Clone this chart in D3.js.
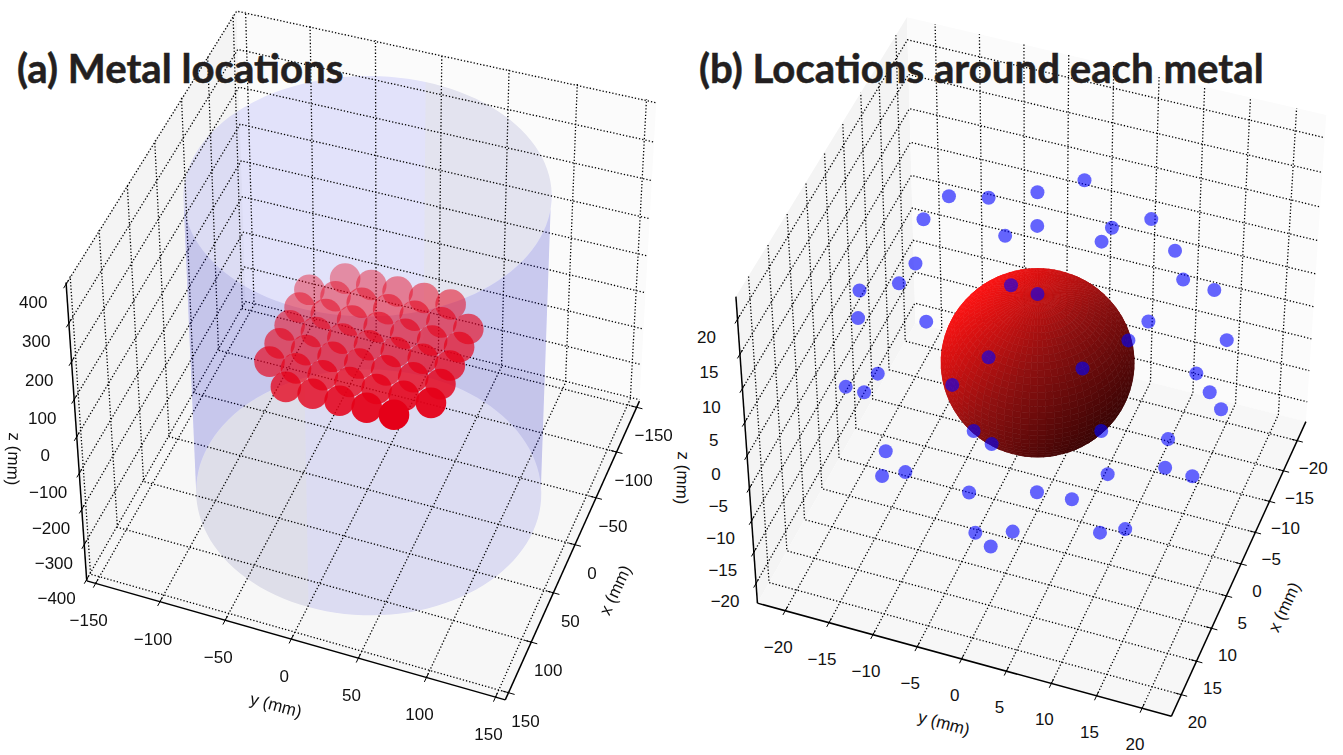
<!DOCTYPE html>
<html>
<head>
<meta charset="utf-8">
<style>
  body { margin: 0; background: #fff; }
  text { font-family: "Liberation Sans", Arial, sans-serif; fill: #111; }
  text.title { font-family: Lato, "Open Sans", sans-serif; font-weight: 700; font-size: 40.2px; fill: #231f20; stroke: #231f20; stroke-width: 0.5px; }
</style>
</head>
<body>
<svg id="chart" width="1343" height="755"></svg>
<script src="https://cdn.jsdelivr.net/npm/d3@7"></script>
<script>
// Panel (a) ticks
const ticksA = [-150, -100, -50, 0, 50, 100, 150];
const zTicksA = [-400, -300, -200, -100, 0, 100, 200, 300, 400];

// Panel (b) ticks
const ticksB = [-20, -15, -10, -5, 0, 5, 10, 15, 20];

// Metal centres, mm
const metalX = [-60, -60, -60, -60, -60,
  -40, -40, -40, -40, -40, -40, -40,
  -20, -20, -20, -20, -20, -20, -20,
  0, 0, 0, 0, 0, 0, 0,
  20, 20, 20, 20, 20, 20, 20,
  40, 40, 40, 40, 40, 40, 40,
  60, 60, 60, 60, 60];
const metalY = [-38.5, -18.5, 1.5, 21.5, 41.5,
  -58.5, -38.5, -18.5, 1.5, 21.5, 41.5, 61.5,
  -58.5, -38.5, -18.5, 1.5, 21.5, 41.5, 61.5,
  -58.5, -38.5, -18.5, 1.5, 21.5, 41.5, 61.5,
  -58.5, -38.5, -18.5, 1.5, 21.5, 41.5, 61.5,
  -58.5, -38.5, -18.5, 1.5, 21.5, 41.5, 61.5,
  -38.5, -18.5, 1.5, 21.5, 41.5];

// Locations around one metal, mm (depth is an estimate)
const siteX = [-16.6, -13.1, -9.3, -10.5, -5.0, -13.2, -8.1, -10.5, -5.5, -8.1,
  -9.4, 1.7, 5.1, -5.5, 7.5, -5.1, 1.4, 1.7, 11.4, 9.5,
  1.7, -6.5, -10.1, 1.0, -0.8, 7.3, -4.2, 10.3, 10.4, 6.2,
  -2.0, 0.0, 1.0, -3.7, 2.2, -5.0, 7.1, 9.3, 10.7, -0.8,
  -0.6, 2.2, 9.8, 7.3, 7.0, 15.1, 13.6, 16.4, 10.6, 9.2];
const siteY = [-0.8, -4.8, -13.3, -9.3, -14.5, 7.8, -3.0, 4.4, -5.6, 4.1,
  11.7, -12.8, -13.3, 13.9, -16.7, 17.4, -2.4, 0.6, -15.3, -8.6,
  12.6, 7.8, 17.5, -5.1, 4.7, -15.1, 16.1, -17.5, -15.4, -7.2,
  18.3, 20.2, -6.9, 5.9, -4.4, 13.0, -14.6, -11.5, -13.6, 14.1,
  17.2, 8.7, -4.1, 2.6, 6.4, -1.4, 2.2, 0.8, 10.8, 13.1];
const siteZ = [12, 12, 12, 12, 12, 12, 12, 12, 12, 12,
  12, 12, 12, 12, 12, 12, 12, 12, 12, 12,
  12, 0, 0, 0, 0, 0, 0, 0, 0, 0,
  0, 0, -12, -12, -12, -12, -12, -12, -12, -12,
  -12, -12, -12, -12, -12, -12, -12, -12, -12, -12];

// Cylinder and sphere sizes, mm
const cylinderRadius = 125.5;
const cylinderEnds = [-400, 400];
const sphereRadius = 10.1;

const svg = d3.select("#chart");
const line = d3.line();

// Least squares camera from the box corners seen on screen
function solveCamera(corners) {
  const A = [];
  const b = [];
  corners.forEach(([u, v, w, X, Y]) => {
    A.push([u, v, w, 1, 0, 0, 0, 0, -X * u, -X * v, -X * w]);
    b.push(X);
    A.push([0, 0, 0, 0, u, v, w, 1, -Y * u, -Y * v, -Y * w]);
    b.push(Y);
  });
  const n = 11;
  const M = d3.range(n).map((i) =>
    d3.range(n + 1).map((j) => d3.sum(A, (r, k) => r[i] * (j < n ? r[j] : b[k])))
  );
  for (let i = 0; i < n; i++) {
    let p = i;
    for (let r = i; r < n; r++) if (Math.abs(M[r][i]) > Math.abs(M[p][i])) p = r;
    [M[i], M[p]] = [M[p], M[i]];
    for (let r = 0; r < n; r++) {
      if (r === i) continue;
      const f = M[r][i] / M[i][i];
      for (let j = i; j <= n; j++) M[r][j] -= f * M[i][j];
    }
  }
  return M.map((r, i) => r[n] / r[i]);
}

function makePanel(cfg) {
  const g = svg.append("g").style("isolation", "isolate");
  const cam = solveCamera(cfg.corners);
  const xScale = d3.scaleLinear([-cfg.lim, cfg.lim], [0, 1]);
  const yScale = d3.scaleLinear([-cfg.lim, cfg.lim], [0, 1]);
  const zScale = d3.scaleLinear([-cfg.zLim, cfg.zLim], [0, 1]);

  const depthOf = (x, y, z) =>
    cam[8] * xScale(x) + cam[9] * yScale(y) + cam[10] * zScale(z) + 1;
  const project = (x, y, z) => {
    const u = xScale(x), v = yScale(y), w = zScale(z);
    const d = depthOf(x, y, z);
    return [
      (cam[0] * u + cam[1] * v + cam[2] * w + cam[3]) / d,
      (cam[4] * u + cam[5] * v + cam[6] * w + cam[7]) / d,
    ];
  };

  const L = cfg.lim, Z = cfg.zLim;

  // Panes
  const pane = (pts, fill) =>
    g.append("path")
      .attr("d", line(pts.map((p) => project(...p))) + "Z")
      .attr("fill", fill);
  pane([[L, -L, -Z], [-L, -L, -Z], [-L, -L, Z], [L, -L, Z]], "#f4f4f4");
  pane([[-L, -L, -Z], [-L, L, -Z], [-L, L, Z], [-L, -L, Z]], "#fbfbfb");
  pane([[L, -L, -Z], [L, L, -Z], [-L, L, -Z], [-L, -L, -Z]], "#f7f7f7");

  // Grid
  const gridLine = (pts) =>
    g.append("path")
      .attr("d", line(pts.map((p) => project(...p))))
      .attr("fill", "none")
      .attr("stroke", "#000")
      .attr("stroke-width", 1.3)
      .attr("stroke-dasharray", "1.3,2");
  cfg.xTicks.forEach((t) => gridLine([[t, L, -Z], [t, -L, -Z], [t, -L, Z]]));
  cfg.yTicks.forEach((t) => gridLine([[L, t, -Z], [-L, t, -Z], [-L, t, Z]]));
  cfg.zTicks.forEach((t) => gridLine([[L, -L, t], [-L, -L, t], [-L, L, t]]));

  // Axes
  const axisLine = (a, b) =>
    g.append("path")
      .attr("d", line([project(...a), project(...b)]))
      .attr("stroke", "#000")
      .attr("stroke-width", 1.5)
      .attr("fill", "none");
  axisLine([-L, L, -Z], [L, L, -Z]);
  axisLine([L, -L, -Z], [L, L, -Z]);
  axisLine([L, -L, -Z], [L, -L, Z]);

  const tickMark = (a, b) =>
    g.append("path")
      .attr("d", line([project(...a), project(...b)]))
      .attr("stroke", "#000")
      .attr("stroke-width", 1);
  const tk = L * 0.028;

  const label = (pos, txt, dx, dy) =>
    g.append("text")
      .attr("x", pos[0] + dx)
      .attr("y", pos[1] + dy)
      .attr("dy", "0.35em")
      .attr("text-anchor", "middle")
      .attr("font-size", 17)
      .text(String(txt).replace("-", "\u2212"));

  cfg.xTicks.forEach((t) => {
    tickMark([t, L - tk, -Z], [t, L + tk, -Z]);
    label(project(t, L, -Z), t, cfg.xOff[0], cfg.xOff[1]);
  });
  cfg.yTicks.forEach((t) => {
    tickMark([L - tk, t, -Z], [L + tk, t, -Z]);
    label(project(L, t, -Z), t, cfg.yOff[0], cfg.yOff[1]);
  });
  const zOffX = d3.scaleLinear([-Z, Z], cfg.zOffX);
  const zOffY = d3.scaleLinear([-Z, Z], cfg.zOffY);
  cfg.zTicks.forEach((t) => {
    tickMark([L - tk, -L, t], [L + tk, -L, t]);
    label(project(L, -L, t), t, zOffX(t), zOffY(t));
  });

  cfg.axisLabels.forEach(([txt, x, y, rot]) => {
    g.append("text")
      .attr("transform", `translate(${x},${y}) rotate(${rot})`)
      .attr("dy", "0.35em")
      .attr("text-anchor", "middle")
      .attr("font-size", 17)
      .text(txt);
  });

  return { g, project, depthOf };
}

// (a) Metal locations
const panelA = makePanel({
  lim: 157,
  zLim: 404,
  corners: [[1, 0, 0, 88, 585], [1, 1, 0, 504, 698], [0, 1, 0, 639, 404], [0, 0, 0, 246, 298],
    [1, 0, 1, 66, 280], [0, 0, 1, 235, 13], [0, 1, 1, 658, 100]],
  xTicks: ticksA,
  yTicks: ticksA,
  zTicks: zTicksA,
  xOff: [17, 28],
  yOff: [-7, 37],
  zOffX: [-30, -33],
  zOffY: [19, 18],
  axisLabels: [["z (mm)", 14, 459, 92], ["y (mm)", 276, 705, 15], ["x (mm)", 615, 590, -65]],
});

// Cylinder walls, split where the shading changes
const wallFill = d3.scaleOrdinal(
  ["back", "backGrey", "frontGrey", "front"],
  ["rgb(230,230,254)", "rgb(231,231,243)", "rgb(230,230,241)", "rgb(227,227,250)"]
);
const wallSectors = [
  [180.5, 291.5, "back"],
  [111.5, 180.5, "backGrey"],
  [-68.5, 0.5, "frontGrey"],
  [0.5, 111.5, "front"],
];
const wallPath = (a0, a1) => {
  const angles = d3.range(a0, a1, 3).concat(a1).map((d) => (d * Math.PI) / 180);
  const ring = (z) =>
    angles.map((t) =>
      panelA.project(cylinderRadius * Math.cos(t), cylinderRadius * Math.sin(t), z)
    );
  return line(ring(cylinderEnds[1]).concat(ring(cylinderEnds[0]).reverse())) + "Z";
};
wallSectors.forEach(([a0, a1, kind]) => {
  panelA.g.append("path")
    .attr("d", wallPath(a0, a1))
    .attr("fill", wallFill(kind))
    .style("mix-blend-mode", "multiply");
});

// The band where both walls overlap is evenly periwinkle in the original
svg.append("clipPath").attr("id", "back-wall")
  .append("path").attr("d", wallPath(111.5, 291.5));
panelA.g.append("path")
  .attr("d", wallPath(-68.5, 111.5))
  .attr("clip-path", "url(#back-wall)")
  .attr("fill", "rgb(197,197,234)")
  .style("mix-blend-mode", "color");

// Metal spheres, further ones fainter
const metalDepth = metalX.map((x, i) => panelA.depthOf(x, metalY[i], 0));
const [depthNear, depthFar] = d3.extent(metalDepth);
const metalAlpha = d3.scaleLinear(
  [depthNear, depthNear + 0.2 * (depthFar - depthNear), depthFar],
  [1, 0.8, 0.38]
);
panelA.g.append("g")
  .selectAll("circle")
  .data(d3.range(metalX.length).sort((a, b) => metalDepth[b] - metalDepth[a]))
  .join("circle")
  .attr("cx", (i) => panelA.project(metalX[i], metalY[i], 0)[0])
  .attr("cy", (i) => panelA.project(metalX[i], metalY[i], 0)[1])
  .attr("r", 15.3)
  .attr("fill", "#e50018")
  .attr("fill-opacity", (i) => metalAlpha(metalDepth[i]));

// (b) Locations around each metal
const panelB = makePanel({
  lim: 23.2,
  zLim: 23.2,
  corners: [[1, 0, 0, 757.4, 604], [1, 1, 0, 1171, 716], [0, 1, 0, 1305.7, 422], [0, 0, 0, 916, 322],
    [1, 0, 1, 736.3, 296], [0, 0, 1, 906, 18], [0, 1, 1, 1326.8, 115]],
  xTicks: ticksB,
  yTicks: ticksB,
  zTicks: ticksB,
  xOff: [16, 27],
  yOff: [-7, 36],
  zOffX: [-31, -31],
  zOffY: [18, 18],
  axisLabels: [["z (mm)", 683, 478, 92], ["y (mm)", 944, 723, 15], ["x (mm)", 1284, 607, -65]],
});

// Red sphere as a shaded mesh
const shade = d3.scaleLinear([-1, 0, 1], ["#380404", "#8f1010", "#ff1212"]).clamp(true);
const lightDir = [-0.25, -0.83, 0.5];
const nTheta = 72, nPhi = 40;
const spherePoint = (i, j) => {
  const t = (i / nTheta) * 2 * Math.PI, p = (j / nPhi) * Math.PI;
  return [Math.sin(p) * Math.cos(t), Math.sin(p) * Math.sin(t), Math.cos(p)];
};
const faces = [];
d3.range(nTheta).forEach((i) => {
  d3.range(nPhi).forEach((j) => {
    const unit = [spherePoint(i, j), spherePoint(i + 1, j), spherePoint(i + 1, j + 1), spherePoint(i, j + 1)];
    const scr = unit.map((u) =>
      panelB.project(u[0] * sphereRadius, u[1] * sphereRadius, u[2] * sphereRadius)
    );
    const mid = spherePoint(i + 0.5, j + 0.5);
    faces.push({ scr, area: d3.polygonArea(scr), light: d3.sum(mid, (m, k) => m * lightDir[k]) });
  });
});
const facingSign = Math.sign(faces[1].area);
panelB.g.append("g")
  .selectAll("path")
  .data(faces.filter((f) => Math.sign(f.area) === facingSign))
  .join("path")
  .attr("d", (f) => line(f.scr) + "Z")
  .attr("fill", (f) => shade(f.light))
  .attr("stroke", (f) => shade(f.light))
  .attr("stroke-width", 0.6);

// Blue locations
panelB.g.append("g")
  .selectAll("circle")
  .data(d3.range(siteX.length))
  .join("circle")
  .attr("cx", (i) => panelB.project(siteX[i], siteY[i], siteZ[i])[0])
  .attr("cy", (i) => panelB.project(siteX[i], siteY[i], siteZ[i])[1])
  .attr("r", 7)
  .attr("fill", "#0000ff")
  .attr("fill-opacity", 0.6);

// Panel titles
svg.append("text").attr("class", "title").attr("x", 17).attr("y", 83).text("(a) Metal locations");
svg.append("text").attr("class", "title").attr("x", 699).attr("y", 83).text("(b) Locations around each metal");
</script>
</body>
</html>
